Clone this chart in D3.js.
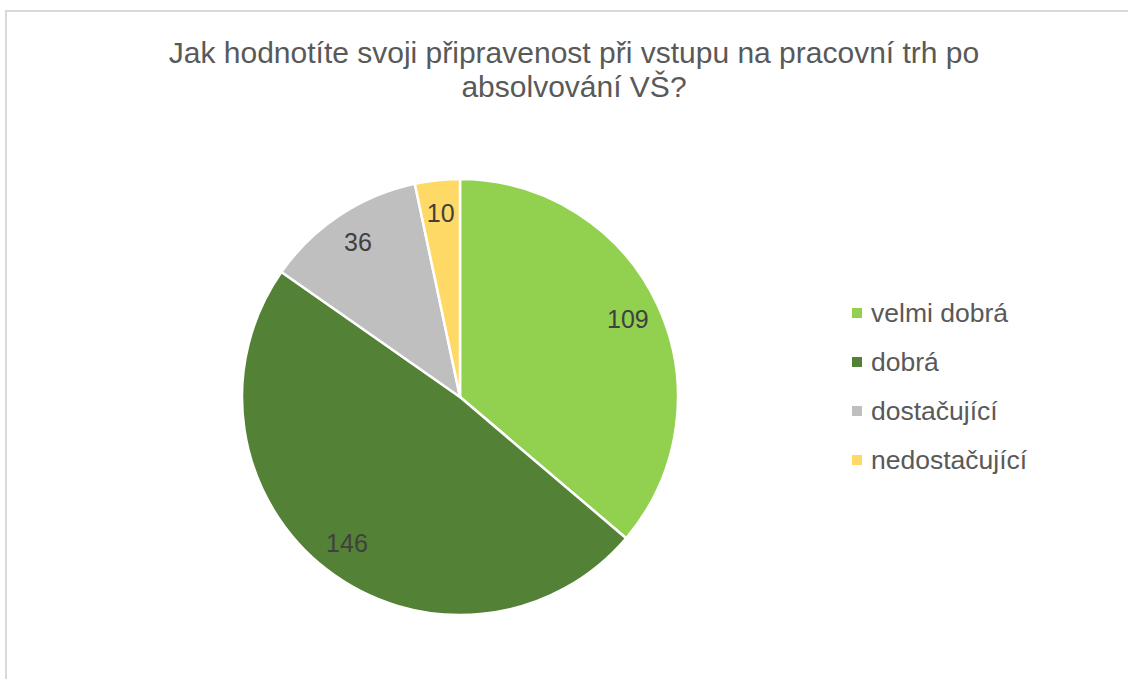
<!DOCTYPE html>
<html>
<head>
<meta charset="utf-8">
<script src="https://cdn.jsdelivr.net/npm/d3@7"></script>
<style>
  body { margin: 0; background: #fff; }
  text { font-family: "Liberation Sans", Arial, sans-serif; }
</style>
</head>
<body>
<div id="chart"></div>
<script>
// data
const categories = ["velmi dobrá", "dobrá", "dostačující", "nedostačující"];
const values = [109, 146, 36, 10];
const colors = ["#92d050", "#538135", "#bfbfbf", "#ffd966"];
const titleLines = ["Jak hodnotíte svoji připravenost při vstupu na pracovní trh po", "absolvování VŠ?"];

const width = 1128;
const height = 679;

const svg = d3.select("#chart")
    .append("svg")
    .attr("width", width)
    .attr("height", height);

// chart frame (cut off at right and bottom)
svg.append("rect")
    .attr("x", 6)
    .attr("y", 11)
    .attr("width", 1300)
    .attr("height", 900)
    .attr("fill", "none")
    .attr("stroke", "#d9d9d9")
    .attr("stroke-width", 2);

// title
svg.append("text")
    .attr("x", 574)
    .attr("y", 63)
    .attr("text-anchor", "middle")
    .attr("font-size", 30)
    .attr("fill", "#595959")
    .selectAll("tspan")
    .data(titleLines)
    .enter()
    .append("tspan")
    .attr("x", 574)
    .attr("dy", (d, i) => i === 0 ? 0 : 34)
    .text(d => d);

const cx = 460, cy = 397, r = 218;
const color = d3.scaleOrdinal().domain(categories).range(colors);

const pie = d3.pie().sort(null).value(d => d.value);
const arcs = pie(categories.map((c, i) => ({ name: c, value: values[i] })));
const arc = d3.arc().innerRadius(0).outerRadius(r);
const labelArc = d3.arc().innerRadius(185).outerRadius(185);

const g = svg.append("g").attr("transform", `translate(${cx},${cy})`);

// slices
g.selectAll("path")
    .data(arcs)
    .enter()
    .append("path")
    .attr("d", arc)
    .attr("fill", d => color(d.data.name))
    .attr("stroke", "#fff")
    .attr("stroke-width", 2.5);

// value labels
g.selectAll("text")
    .data(arcs)
    .enter()
    .append("text")
    .attr("transform", d => `translate(${labelArc.centroid(d)})`)
    .attr("text-anchor", "middle")
    .attr("dy", "0.35em")
    .attr("font-size", 25)
    .attr("fill", "#404040")
    .text(d => d.data.value);

// legend
const legendY = d3.scalePoint().domain(categories).range([313, 460]);

const legend = svg.append("g")
    .selectAll("g")
    .data(categories)
    .enter()
    .append("g")
    .attr("transform", d => `translate(852,${legendY(d)})`);

legend.append("rect")
    .attr("x", 0)
    .attr("y", -5)
    .attr("width", 10)
    .attr("height", 10)
    .attr("fill", d => color(d));

legend.append("text")
    .attr("x", 19)
    .attr("dy", "0.35em")
    .attr("font-size", 26.5)
    .attr("fill", "#595959")
    .text(d => d);
</script>
</body>
</html>
